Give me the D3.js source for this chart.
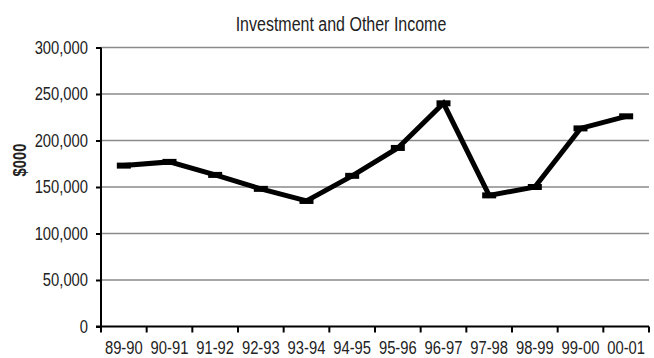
<!DOCTYPE html>
<html>
<head>
<meta charset="utf-8">
<script src="https://cdn.jsdelivr.net/npm/d3@7"></script>
<style>
  html, body { margin: 0; padding: 0; background: #fff; }
  svg { display: block; }
  text { font-family: "Liberation Sans", Arial, sans-serif; fill: #222; }
</style>
</head>
<body>
<svg id="chart" width="654" height="358"></svg>
<script>
// Financial years and investment income ($000)
const years = ["89-90","90-91","91-92","92-93","93-94","94-95","95-96","96-97","97-98","98-99","99-00","00-01"];
const income = [173000, 177000, 163000, 148000, 135000, 162000, 192000, 240000, 141000, 150000, 213000, 226000];
const yTicks = [0, 50000, 100000, 150000, 200000, 250000, 300000];

const svg = d3.select("#chart");
const plotLeft = 101, plotRight = 649, plotTop = 47.5, plotBottom = 326.5;
const narrow = 0.82; // horizontal squeeze for a narrow face

const x = d3.scaleBand().domain(years).range([plotLeft, plotRight]).padding(0);
const y = d3.scaleLinear().domain([0, 300000]).range([plotBottom, plotTop]);

// Condense a text selection to a narrow width
function condense(sel) {
  sel.each(function () {
    const w = this.getComputedTextLength();
    this.setAttribute("textLength", (w * narrow).toFixed(2));
    this.setAttribute("lengthAdjust", "spacingAndGlyphs");
  });
}

// Horizontal gridlines
svg.append("g")
  .selectAll("line")
  .data(yTicks.filter(d => d > 0))
  .join("line")
  .attr("x1", plotLeft).attr("x2", plotRight)
  .attr("y1", d => y(d)).attr("y2", d => y(d))
  .attr("stroke", "#8a8a8a").attr("stroke-width", 1.6);

// Y axis
const yAxis = svg.append("g")
  .attr("transform", `translate(${plotLeft},0)`)
  .call(d3.axisLeft(y).tickValues(yTicks).tickSize(5).tickPadding(8)
    .tickFormat(d3.format(",")));
yAxis.select(".domain").remove();
yAxis.selectAll(".tick line").attr("stroke", "#000").attr("stroke-width", 2);
yAxis.selectAll(".tick text").attr("font-size", 18).attr("font-family", null)
  .attr("fill", null).call(condense);
svg.append("line")
  .attr("x1", plotLeft).attr("x2", plotLeft).attr("y1", plotTop).attr("y2", plotBottom + 1)
  .attr("stroke", "#000").attr("stroke-width", 2);

// X axis with ticks on category boundaries
svg.append("line")
  .attr("x1", plotLeft - 5).attr("x2", plotRight).attr("y1", plotBottom).attr("y2", plotBottom)
  .attr("stroke", "#000").attr("stroke-width", 2);
const bounds = years.map(d => x(d)).concat([plotRight]);
svg.append("g").selectAll("line")
  .data(bounds)
  .join("line")
  .attr("x1", d => d).attr("x2", d => d)
  .attr("y1", plotBottom).attr("y2", plotBottom + 6)
  .attr("stroke", "#000").attr("stroke-width", 2);
svg.append("g").selectAll("text")
  .data(years)
  .join("text")
  .attr("x", d => x(d) + x.bandwidth() / 2)
  .attr("y", 354)
  .attr("text-anchor", "middle")
  .attr("font-size", 18)
  .text(d => d)
  .call(condense);

// Income line
const line = d3.line()
  .x((d, i) => x(years[i]) + x.bandwidth() / 2)
  .y(d => y(d));
svg.append("path")
  .datum(income)
  .attr("d", line)
  .attr("fill", "none")
  .attr("stroke", "#000")
  .attr("stroke-width", 5)
  .attr("stroke-linejoin", "miter");

// Dash markers
svg.append("g").selectAll("rect")
  .data(income)
  .join("rect")
  .attr("x", (d, i) => x(years[i]) + x.bandwidth() / 2 - 7)
  .attr("y", d => y(d) - 3)
  .attr("width", 14).attr("height", 6)
  .attr("fill", "#000");

// Title
svg.append("text")
  .attr("x", 341).attr("y", 31)
  .attr("text-anchor", "middle")
  .attr("font-size", 19.5)
  .text("Investment and Other Income")
  .call(condense);

// Y axis label
svg.append("text")
  .attr("transform", "translate(26,160) rotate(-90)")
  .attr("text-anchor", "middle")
  .attr("font-size", 18)
  .attr("font-weight", "bold")
  .text("$000")
  .call(condense);
</script>
</body>
</html>
